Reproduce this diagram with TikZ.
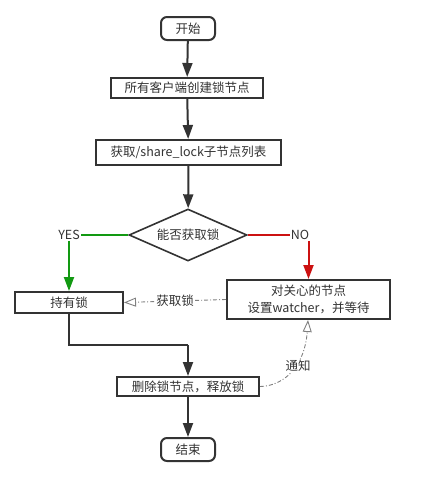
\documentclass[tikz,border=0pt]{standalone}
\usepackage{fontspec}
\setmainfont{Noto Sans CJK SC}
\usetikzlibrary{shapes.geometric,arrows.meta}
\definecolor{ln}{HTML}{333333}
\definecolor{gr}{HTML}{129912}
\definecolor{rd}{HTML}{CC1111}
\begin{document}
\begin{tikzpicture}[x=1pt,y=-1pt,
  font=\fontsize{12.5}{15}\selectfont,
  box/.style={draw=ln,line width=2pt,inner sep=0pt,text=ln,fill=white},
  term/.style={box,rounded corners=6pt},
  dia/.style={draw=ln,line width=1.6pt,diamond,aspect=2.27,inner sep=0pt,text=ln,minimum width=118pt,minimum height=52pt,fill=white},
  tip/.style={-{Triangle[length=14pt,width=10pt]}},
  flow/.style={draw=ln,line width=2pt,tip},
  dd/.style={draw=gray,line width=0.9pt,dash pattern=on 4pt off 2pt on 1pt off 2pt,-{Triangle[open,length=12pt,width=9pt]}},
  lbl/.style={text=ln,inner sep=1pt,fill=white}]
\useasboundingbox (0,0) rectangle (422,479);
\node[term,minimum width=54pt,minimum height=23pt] (start) at (188,28.5) {开始};
\node[box,minimum width=152pt,minimum height=20pt] (create) at (187,88) {所有客户端创建锁节点};
\node[box,minimum width=185pt,minimum height=25pt] (list) at (188.5,152.5) {获取/share\_lock子节点列表};
\node[dia] (can) at (188,235) {能否获取锁};
\node[box,minimum width=108pt,minimum height=21pt] (hold) at (69,302.5) {持有锁};
\node[box,minimum width=163pt,minimum height=39pt,align=center,font=\fontsize{12.5}{17}\selectfont] (watch) at (308.5,299.5) {对关心的节点\\设置watcher，并等待};
\node[box,minimum width=142pt,minimum height=19pt] (del) at (188,386.5) {删除锁节点，释放锁};
\node[term,minimum width=54pt,minimum height=23pt] (end) at (188,449.5) {结束};
\node[text=ln,inner sep=1pt] (yes) at (69,235) {YES};
\node[text=ln,inner sep=1pt] (no) at (300,235) {NO};
\coordinate (bend) at (69,345);
\coordinate (bend2) at (188,345);
\draw[flow] (start) -- (create);
\draw[flow] (create) -- (list);
\draw[flow] (list) -- (can);
\draw[gr,line width=2pt] (can.west) -- (yes.east);
\draw[gr,line width=2pt,tip] (yes.south) -- (hold.north);
\draw[rd,line width=2pt] (can.east) -- (no.west);
\draw[rd,line width=2pt,tip] (no.south -| watch.north) -- (watch.north);
\draw[draw=ln,line width=2pt] (hold.south) -- (bend) -- (bend2);
\draw[flow] (bend2) -- (del.north);
\draw[flow] (del) -- (end);
\draw[dd] (watch.west) -- node[lbl] (get) {获取锁} (hold.east);
\draw[dd] (del.east) .. controls (285,386) and (305,365) .. (308,320);
\node[lbl] (notify) at (298,366) {通知};
\end{tikzpicture}
\end{document}
